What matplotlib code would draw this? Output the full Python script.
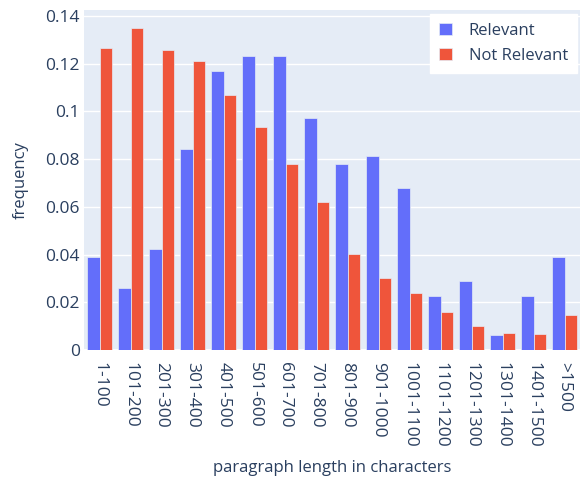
import matplotlib
matplotlib.use("Agg")
import matplotlib.pyplot as plt
import numpy as np
from matplotlib.patches import Patch
from matplotlib.ticker import FixedLocator

categories = ["1-100", "101-200", "201-300", "301-400", "401-500", "501-600",
              "601-700", "701-800", "801-900", "901-1000", "1001-1100",
              "1101-1200", "1201-1300", "1301-1400", "1401-1500", ">1500"]
relevant = [0.0389, 0.0259, 0.0422, 0.0844, 0.1169, 0.1233, 0.1233, 0.0974,
            0.0778, 0.0812, 0.0680, 0.0226, 0.0290, 0.0063, 0.0226, 0.0389]
not_relevant = [0.1267, 0.1350, 0.1256, 0.1211, 0.1067, 0.0936, 0.0781, 0.0622,
                0.0402, 0.0303, 0.0238, 0.0160, 0.0101, 0.0071, 0.0066, 0.0148]
yticks = [0, 0.02, 0.04, 0.06, 0.08, 0.1, 0.12, 0.14]
ytick_labels = ["0", "0.02", "0.04", "0.06", "0.08", "0.1", "0.12", "0.14"]

TEXT = "#2a3f5f"
BLUE = "#636EFA"
RED = "#EF553B"
BG = "#E5ECF6"

plt.rcParams["font.family"] = ["Open Sans", "DejaVu Sans"]

W, H = 581, 479
fig = plt.figure(figsize=(W / 100, H / 100), dpi=100)
fig.patch.set_facecolor("white")
l, r, t, b = 84, 580, 10, 350
ax = fig.add_axes([l / W, 1 - b / H, (r - l) / W, (b - t) / H])
ax.set_facecolor(BG)
for s in ax.spines.values():
    s.set_visible(False)

x = np.arange(len(categories))
w = 0.4
ax.bar(x - w / 2, relevant, width=w, color=BLUE, edgecolor=BG, linewidth=0.5, zorder=3)
ax.bar(x + w / 2, not_relevant, width=w, color=RED, edgecolor=BG, linewidth=0.5, zorder=3)

ax.set_xlim(-0.5, len(categories) - 0.5)
ax.set_ylim(0, 0.1425)
ax.yaxis.set_major_locator(FixedLocator(yticks))
ax.set_yticklabels(ytick_labels)
ax.grid(axis="y", color="white", linewidth=1, zorder=0)
ax.axhline(0, color="white", linewidth=2, zorder=1)
ax.set_axisbelow(True)

ax.set_xticks(x)
ax.set_xticklabels(categories, rotation=-90, va="top", ha="center")
ax.tick_params(axis="both", length=0, labelsize=12.5, colors=TEXT)
ax.tick_params(axis="y", pad=3)
ax.tick_params(axis="x", pad=9)

ax.set_ylabel("frequency", fontsize=12, color=TEXT, labelpad=12)
fig.text((l + r) / 2 / W, 1 - 468 / H, "paragraph length in characters",
         fontsize=12, color=TEXT, ha="center", va="center")

handles = [Patch(facecolor=BLUE, edgecolor=BG, linewidth=0.5, label="Relevant"),
           Patch(facecolor=RED, edgecolor=BG, linewidth=0.5, label="Not Relevant")]
leg = ax.legend(handles=handles, loc="upper right",
                bbox_to_anchor=(577 / W, 1 - 14 / H), bbox_transform=fig.transFigure,
                borderaxespad=0,
                frameon=True, fancybox=False, framealpha=1, edgecolor="white",
                facecolor="white", fontsize=12, handlelength=0.75, handleheight=0.75,
                handletextpad=1.0, labelspacing=0.5, borderpad=0.55)
for txt in leg.get_texts():
    txt.set_color(TEXT)

fig.savefig("out.png", dpi=100)
